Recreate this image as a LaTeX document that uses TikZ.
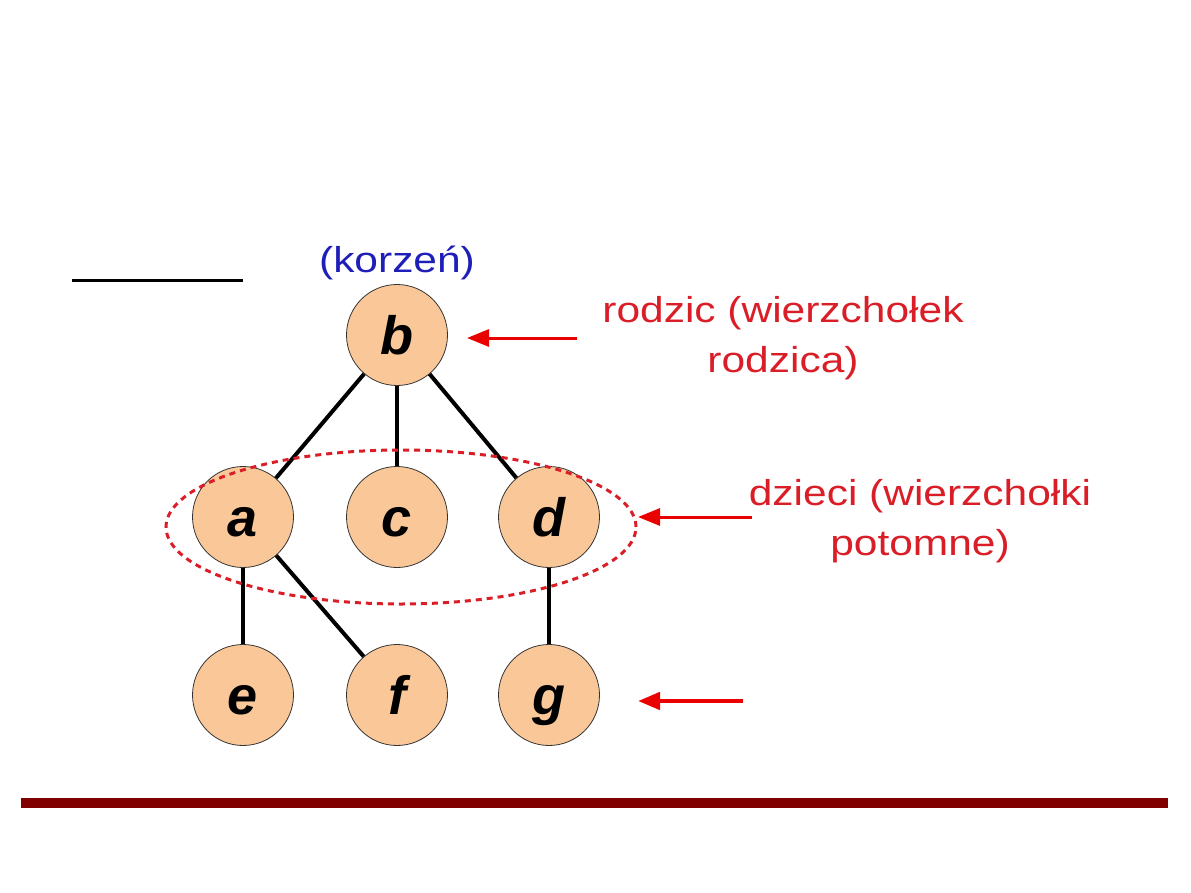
\documentclass[tikz,border=0pt]{standalone}
\usepackage{fontspec}
\setmainfont{Liberation Sans}
\newfontfamily\lab[FakeStretch=1.18]{Liberation Sans}
\usetikzlibrary{arrows.meta,shapes.geometric}
\definecolor{peach}{RGB}{250,200,152}
\definecolor{labred}{RGB}{218,30,40}
\definecolor{arrred}{RGB}{235,0,0}
\definecolor{korblue}{RGB}{30,30,185}
\definecolor{barred}{RGB}{128,0,0}
\tikzset{
  vert/.style={circle, draw=black!80, line width=0.8pt, fill=peach, minimum size=101pt, inner sep=0pt,
    text height=40pt, text depth=2pt,
    font=\fontsize{54}{54}\selectfont\bfseries\itshape},
  edge/.style={line width=4pt, black},
  lbl/.style={text=labred, font=\lab\fontsize{36}{50}\selectfont, align=center},
  pointer/.style={arrred, line width=3pt, -{Triangle[length=22pt,width=17pt]}},
}
\begin{document}
\begin{tikzpicture}[x=1pt,y=-1pt]
\useasboundingbox (0,0) rectangle (1191,893);
\node[vert] (b) at (397,335) {b};
\node[vert] (a) at (243,517) {a};
\node[vert] (c) at (397,517) {c};
\node[vert] (d) at (549,517) {d};
\node[vert] (e) at (243,695) {e};
\node[vert] (f) at (397,695) {f};
\node[vert] (g) at (549,695) {g};
\draw[edge] (b) -- (a);
\draw[edge] (b) -- (c);
\draw[edge] (b) -- (d);
\draw[edge] (a) -- (e);
\draw[edge] (a) -- (f);
\draw[edge] (d) -- (g);
\node[draw=labred, line width=3pt, dash pattern=on 6pt off 5pt, ellipse, minimum width=470pt, minimum height=154pt] (grp) at (401,527) {};
\node[text=korblue, font=\lab\fontsize{36}{40}\selectfont] (kor) at (397,263) {(korzeń)};
\node[lbl] (par) at (783,338) {rodzic (wierzchołek\\rodzica)};
\node[lbl] (chi) at (920,521) {dzieci (wierzchołki\\potomne)};
\coordinate (pa) at (577,338);
\coordinate (pt) at (467,338);
\coordinate (ch) at (752,517);
\coordinate (cht) at (638,517);
\coordinate (ga) at (743,701);
\coordinate (gt) at (638,701);
\draw[pointer] (pa) -- (pt);
\draw[pointer] (ch) -- (cht);
\draw[pointer, line width=4.5pt] (ga) -- (gt);
\coordinate (l1) at (72,281);
\coordinate (l2) at (243,281);
\draw[line width=3pt] (l1) -- (l2);
\fill[barred] (21,798) rectangle (1168,808);
\end{tikzpicture}
\end{document}
